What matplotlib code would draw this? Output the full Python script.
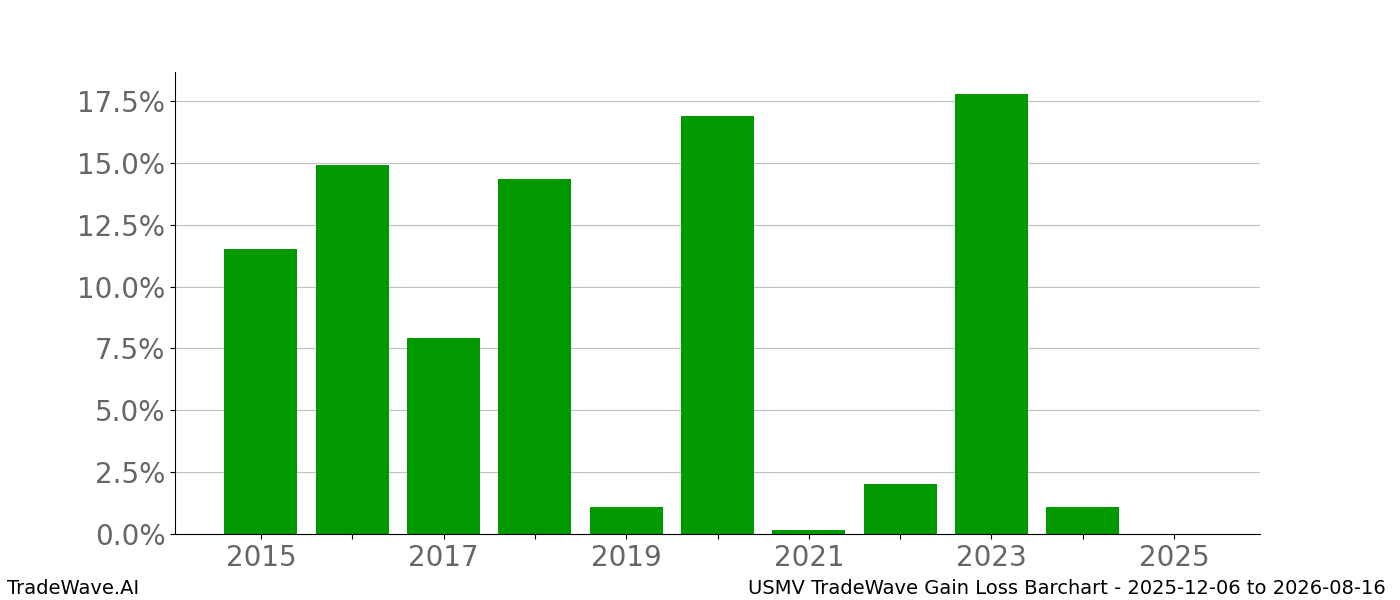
import matplotlib.pyplot as plt
from matplotlib.ticker import FuncFormatter

years = [2015, 2016, 2017, 2018, 2019, 2020, 2021, 2022, 2023, 2024, 2025]
gains = [11.52, 14.91, 7.92, 14.35, 1.09, 16.9, 0.16, 2.02, 17.78, 1.09, 0.0]
title_left = "TradeWave.AI"
title_right = "USMV TradeWave Gain Loss Barchart - 2025-12-06 to 2026-08-16"

fig, ax = plt.subplots(figsize=(14, 6), dpi=100)
ax.bar(years, gains, width=0.8, color='#009900', zorder=2)

ax.set_xticks(years)
ax.set_xticklabels([str(y) if y % 2 == 1 else '' for y in years])
ax.yaxis.set_major_formatter(FuncFormatter(lambda v, p: f'{v:.1f}%'))
ax.tick_params(axis='both', labelsize=20, labelcolor='#666666')
ax.grid(axis='y', color='#c0c0c0', linewidth=0.8, zorder=0)
ax.spines['top'].set_visible(False)
ax.spines['right'].set_visible(False)

fig.text(0.005, 0.004, title_left, fontsize=14, ha='left', va='bottom')
fig.text(0.99, 0.004, title_right, fontsize=14, ha='right', va='bottom')

plt.savefig('out.png', dpi=100)
